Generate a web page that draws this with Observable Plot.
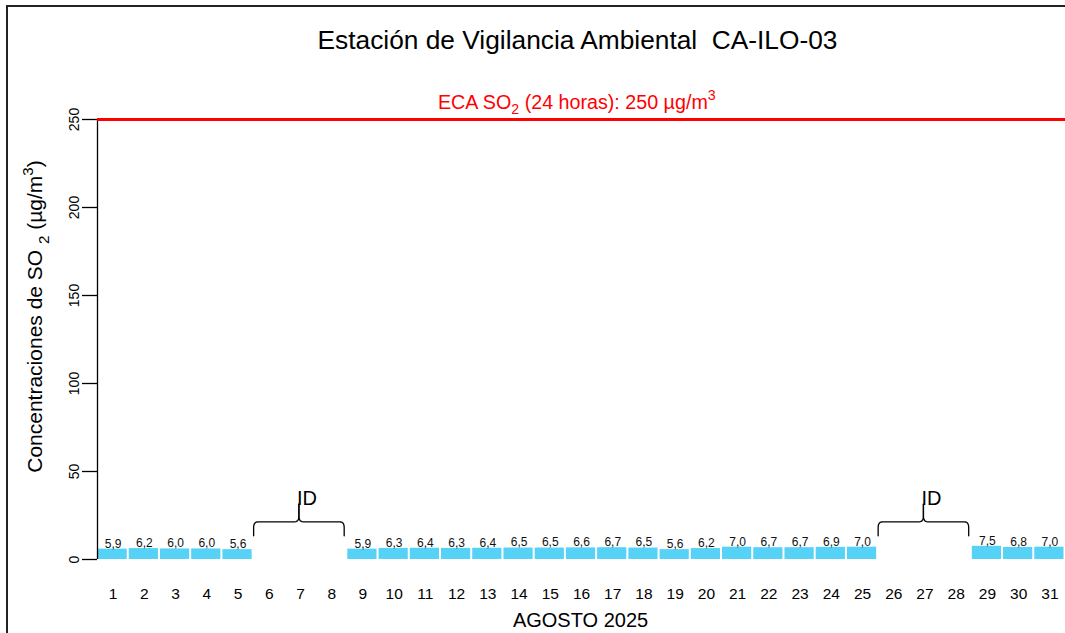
<!DOCTYPE html>
<html>
<head>
<meta charset="utf-8">
<script src="https://cdn.jsdelivr.net/npm/d3@7"></script>
<script src="https://cdn.jsdelivr.net/npm/@observablehq/plot@0.6"></script>
<style>
  html, body { margin: 0; padding: 0; background: #fff; overflow: hidden; }
  #chart { width: 1065px; height: 633px; }
</style>
</head>
<body>
<div id="chart"></div>
<script>
// ---- data ----
const days = [1,2,3,4,5,6,7,8,9,10,11,12,13,14,15,16,17,18,19,20,21,22,23,24,25,26,27,28,29,30,31];
const values = [5.9,6.2,6.0,6.0,5.6,null,null,null,5.9,6.3,6.4,6.3,6.4,6.5,6.5,6.6,6.7,6.5,5.6,6.2,7.0,6.7,6.7,6.9,7.0,null,null,null,7.5,6.8,7.0];
const yTicks = [0,50,100,150,200,250];
const limitValue = 250;
const missingLabel = "ID";
const titleText = "Estación de Vigilancia Ambiental  CA-ILO-03";
const limitText = "ECA SO2 (24 horas): 250 µg/m3";
const xLabel = "AGOSTO 2025";
const yLabel = "Concentraciones de SO 2 (µg/m3)";

// ---- derived tables ----
const table = days.map((d, i) => ({day: d, value: values[i]}));
const present = table.filter(d => d.value != null);
const gaps = [];
for (let i = 0; i < table.length; i++) {
  if (table[i].value == null) {
    let j = i;
    while (j + 1 < table.length && table[j + 1].value == null) j++;
    gaps.push({start: table[i].day, end: table[j].day});
    i = j;
  }
}
// brace shape (in scale units)
const braceBottom = 13.5, braceMid = 21.4, braceTop = 31.5, rY = 3.2, rX = 0.14;
function quad(p0, c, p1, n = 6) {
  const out = [];
  for (let k = 1; k <= n; k++) {
    const t = k / n;
    out.push([
      (1-t)*(1-t)*p0[0] + 2*(1-t)*t*c[0] + t*t*p1[0],
      (1-t)*(1-t)*p0[1] + 2*(1-t)*t*c[1] + t*t*p1[1]
    ]);
  }
  return out;
}
const bracePts = [];
gaps.forEach((g, gi) => {
  const a = g.start - 0.5, b = g.end + 0.4, c = (a + b) / 2;
  let pts = [[a, braceBottom], [a, braceMid - rY]];
  pts = pts.concat(quad([a, braceMid - rY], [a, braceMid], [a + rX, braceMid]));
  pts.push([c - rX, braceMid]);
  pts = pts.concat(quad([c - rX, braceMid], [c, braceMid], [c, braceMid + rY]));
  pts.push([c, braceTop]);
  pts.forEach(p => bracePts.push({x: p[0], y: p[1], z: gi + "L"}));
  pts.forEach(p => bracePts.push({x: a + b - p[0], y: p[1], z: gi + "R"}));
  g.center = c;
});

const fmt = v => v.toFixed(1).replace(".", ",");
const FONT = "'Liberation Sans', Arial, Helvetica, sans-serif";

const svg = Plot.plot({
  width: 1065,
  height: 633,
  marginLeft: 97,
  marginRight: 0,
  marginTop: 119,
  marginBottom: 74,
  style: {fontFamily: FONT, fontSize: "14px", background: "white", color: "black", overflow: "visible"},
  x: {type: "linear", domain: [0.5, 31.5], axis: null},
  y: {domain: [0, 250], axis: null},
  marks: [
    Plot.rectY(present, {x1: d => d.day - 0.5, x2: d => d.day + 0.5, y1: 0, y2: "value", fill: "#55d2f5", insetLeft: 0.5, insetRight: 1.5}),
    Plot.text(present, {x: "day", y: "value", text: d => fmt(d.value), lineAnchor: "bottom", dy: -1.6, fontSize: 12, fill: "#111"}),
    Plot.axisX(days, {tickSize: 0, tickPadding: 28, fontSize: 15.5, label: null, tickFormat: d => String(d)}),
    Plot.axisY(yTicks, {tickSize: 15, tickRotate: -90, tickPadding: 4, fontSize: 14, label: null, strokeWidth: 1.3}),
    Plot.ruleX([0.5], {y1: 0, y2: limitValue, stroke: "black", strokeWidth: 1.3}),
    Plot.ruleY([limitValue], {stroke: "#ff0000", strokeWidth: 3}),
    Plot.text([limitText], {x: 15.85, y: limitValue, text: d => d, lineAnchor: "bottom", dy: -11, fontSize: 19.7, fill: "#ff0000"}),
    Plot.line(bracePts, {x: "x", y: "y", z: "z", stroke: "black", strokeWidth: 1.3}),
    Plot.text(gaps, {x: "center", y: braceTop, text: () => missingLabel, textAnchor: "start", lineAnchor: "bottom", dx: -2, dy: 1, fontSize: 20, fill: "black"}),
    Plot.text([titleText], {frameAnchor: "top", text: d => d, lineAnchor: "bottom", dx: -4, dy: -71, fontSize: 26.3, fill: "black"}),
    Plot.text([xLabel], {frameAnchor: "bottom", text: d => d, lineAnchor: "bottom", dx: -1, dy: 67.7, fontSize: 20, fill: "black"}),
    Plot.text([yLabel], {frameAnchor: "left", text: d => d, rotate: -90, textAnchor: "middle", lineAnchor: "middle", dx: -62, dy: -23, fontSize: 21, fill: "black"})
  ]
});

// rich text: subscripts and superscripts
function rich(plain, parts, fs) {
  d3.select(svg).selectAll("text").each(function() {
    if (this.textContent !== plain) return;
    const t = d3.select(this);
    t.text(null);
    let shift = 0;
    parts.forEach(([s, kind]) => {
      const sp = t.append("tspan").text(s);
      let target = 0;
      if (kind === "sub") { sp.attr("font-size", fs * 0.72); target = fs * 0.3; }
      if (kind === "sup") { sp.attr("font-size", fs * 0.72); target = -fs * 0.42; }
      const d = target - shift;
      if (d !== 0) sp.attr("dy", d);
      shift = target;
    });
  });
}
rich(limitText, [["ECA SO", ""], ["2", "sub"], [" (24 horas): 250 µg/m", ""], ["3", "sup"]], 19.7);
rich(yLabel, [["Concentraciones de SO ", ""], ["2", "sub"], [" (µg/m", ""], ["3", "sup"], [")", ""]], 21);

// outer frame
d3.select(svg).append("rect")
  .attr("x", 7).attr("y", 6).attr("width", 1200).attr("height", 800)
  .attr("fill", "none").attr("stroke", "#222").attr("stroke-width", 2);

document.getElementById("chart").appendChild(svg);
</script>
</body>
</html>
